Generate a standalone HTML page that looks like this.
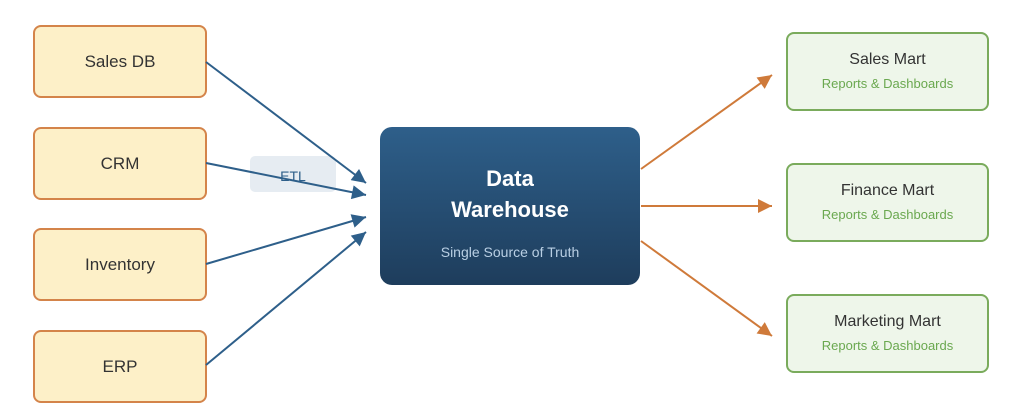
<!DOCTYPE html>
<html><head><meta charset="utf-8"><style>
body{margin:0;width:1024px;height:413px;background:#fff;position:relative;overflow:hidden;font-family:"Liberation Sans",sans-serif}
.s{position:absolute;left:33px;width:170px;height:69px;background:#fdf0c8;border:2px solid #d4844a;border-radius:8px;display:flex;align-items:center;justify-content:center;font-size:17px;color:#333}
.m{position:absolute;left:786px;width:203px;height:79px;background:#eef6ea;border:2px solid #7aab5c;border-radius:8px;text-align:center;box-sizing:border-box}
.m b{display:block;font-size:16px;font-weight:normal;color:#333;margin-top:17px}
.m span{display:block;font-size:13px;color:#6aa84f;margin-top:7px}
</style></head><body>
<div class="s" style="top:25px">Sales DB</div>
<div class="s" style="top:127px">CRM</div>
<div class="s" style="top:228px">Inventory</div>
<div class="s" style="top:330px">ERP</div>
<div style="position:absolute;left:250px;top:156px;width:86px;height:36px;background:#e6ecf2;border-radius:5px"></div>
<div style="position:absolute;left:380px;top:127px;width:260px;height:158px;border-radius:12px;background:linear-gradient(#2e5f8a,#1e3d5c);color:#fff;text-align:center">
<div style="font-size:22px;font-weight:bold;line-height:31px;margin-top:36px">Data<br>Warehouse</div>
<div style="font-size:14px;color:#b9cfe4;margin-top:19px">Single Source of Truth</div></div>
<div class="m" style="top:32px"><b>Sales Mart</b><span>Reports &amp; Dashboards</span></div>
<div class="m" style="top:163px"><b>Finance Mart</b><span>Reports &amp; Dashboards</span></div>
<div class="m" style="top:294px"><b>Marketing Mart</b><span>Reports &amp; Dashboards</span></div>
<svg width="1024" height="413" style="position:absolute;left:0;top:0">
<defs>
<marker id="b" markerWidth="16" markerHeight="14" refX="10" refY="5" orient="auto" markerUnits="userSpaceOnUse" viewBox="0 0 10 10"><path d="M0,0L10,5L0,10z" fill="#2e5f8a"/></marker>
<marker id="o" markerWidth="16" markerHeight="14" refX="10" refY="5" orient="auto" markerUnits="userSpaceOnUse" viewBox="0 0 10 10"><path d="M0,0L10,5L0,10z" fill="#cf7a3a"/></marker>
</defs>
<g stroke="#2e5f8a" stroke-width="2" marker-end="url(#b)" fill="none">
<line x1="206" y1="62" x2="366" y2="183"/>
<line x1="206" y1="163" x2="366" y2="195"/>
<line x1="206" y1="264" x2="366" y2="217"/>
<line x1="206" y1="365" x2="366" y2="232"/>
</g>
<text x="293" y="181" text-anchor="middle" font-size="14" fill="#2e5f8a" font-family="Liberation Sans">ETL</text>
<g stroke="#cf7a3a" stroke-width="2" marker-end="url(#o)" fill="none">
<line x1="641" y1="169" x2="772" y2="75"/>
<line x1="641" y1="206" x2="772" y2="206"/>
<line x1="641" y1="241" x2="772" y2="336"/>
</g>
</svg>
</body></html>
